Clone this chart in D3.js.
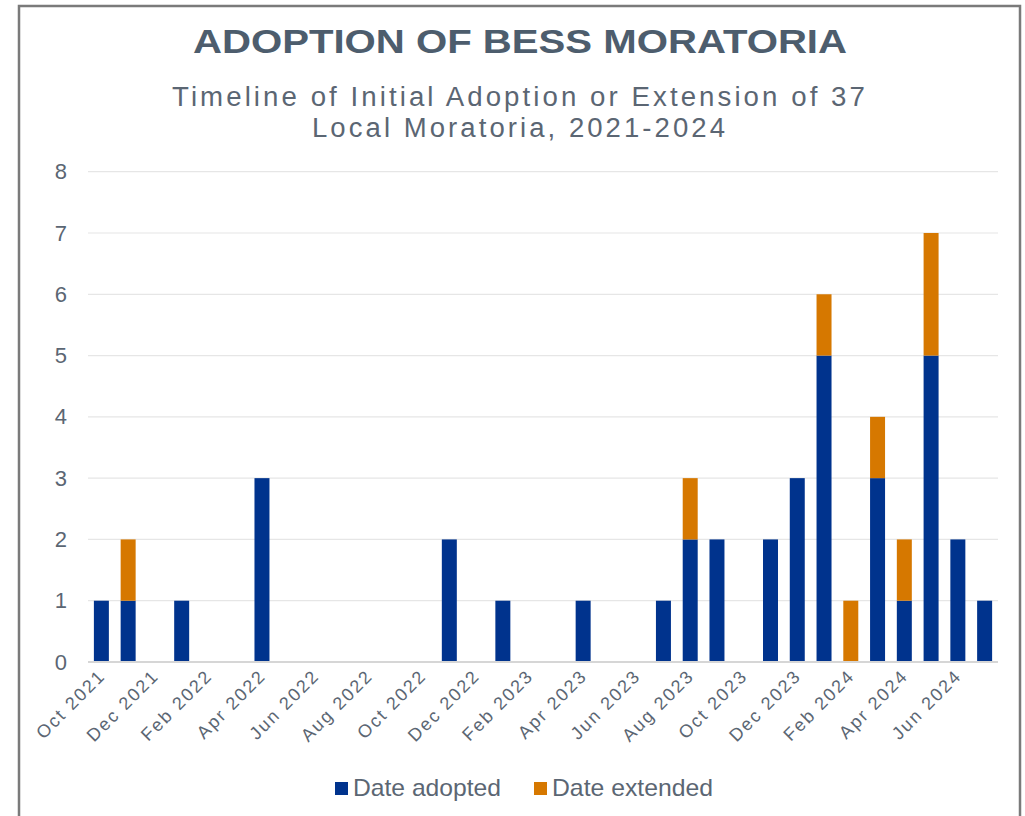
<!DOCTYPE html>
<html>
<head>
<meta charset="utf-8">
<script src="https://cdn.jsdelivr.net/npm/d3@7"></script>
<style>
  html, body { margin: 0; padding: 0; background: #ffffff; }
  svg { display: block; font-family: "Liberation Sans", Arial, sans-serif; }
</style>
</head>
<body>
<svg id="chart" width="1025" height="816"></svg>
<script>
// ---- Data ----
const months = ["Oct 2021","Nov 2021","Dec 2021","Jan 2022","Feb 2022","Mar 2022","Apr 2022","May 2022","Jun 2022","Jul 2022","Aug 2022","Sep 2022","Oct 2022","Nov 2022","Dec 2022","Jan 2023","Feb 2023","Mar 2023","Apr 2023","May 2023","Jun 2023","Jul 2023","Aug 2023","Sep 2023","Oct 2023","Nov 2023","Dec 2023","Jan 2024","Feb 2024","Mar 2024","Apr 2024","May 2024","Jun 2024","Jul 2024"];
const adopted  = [1,1,0,1,0,0,3,0,0,0,0,0,0,2,0,1,0,0,1,0,0,1,2,2,0,2,3,5,0,3,1,5,2,1];
const extended = [0,1,0,0,0,0,0,0,0,0,0,0,0,0,0,0,0,0,0,0,0,0,1,0,0,0,0,1,1,1,1,2,0,0];
const seriesNames = ["Date adopted", "Date extended"];
const seriesColors = ["#00338D", "#D67800"];
const yTicks = [0,1,2,3,4,5,6,7,8];
const xTickLabels = months.filter((m, i) => i % 2 === 0);
const titleText = "ADOPTION OF BESS MORATORIA";
const subtitleLines = ["Timeline of Initial Adoption or Extension of 37", "Local Moratoria, 2021-2024"];

// ---- Setup ----
const svg = d3.select("#chart");
const textColor = "#5b6673";

// frame
svg.append("rect")
  .attr("x", 19).attr("y", 6).attr("width", 1001).attr("height", 830)
  .attr("fill", "#ffffff").attr("stroke", "#7a7a7a").attr("stroke-width", 2.5);

const x = d3.scaleBand().domain(months).range([88, 998]).paddingInner(0.44).paddingOuter(0.22);
const y = d3.scaleLinear().domain([0, 8]).range([662, 171.7]);

// title
svg.append("text")
  .attr("x", 520).attr("y", 53)
  .attr("text-anchor", "middle")
  .attr("font-size", 34).attr("font-weight", "bold")
  .attr("fill", "#4d5d6d")
  .attr("textLength", 654).attr("lengthAdjust", "spacingAndGlyphs")
  .text(titleText);

// subtitle
const subW = [696, 416];
svg.selectAll("text.sub").data(subtitleLines).join("text")
  .attr("class", "sub")
  .attr("x", 520).attr("y", (d, i) => 106 + i * 31)
  .attr("text-anchor", "middle")
  .attr("font-size", 27)
  .attr("letter-spacing", 3)
  .attr("fill", textColor)
  .attr("textLength", (d, i) => subW[i]).attr("lengthAdjust", "spacingAndGlyphs")
  .text(d => d);

// gridlines
svg.append("g").selectAll("line").data(yTicks.filter(t => t > 0)).join("line")
  .attr("x1", 88).attr("x2", 998)
  .attr("y1", d => y(d)).attr("y2", d => y(d))
  .attr("stroke", "#e6e6e6").attr("stroke-width", 1.2);

// y axis labels via d3 axis
const yAxis = d3.axisLeft(y).tickValues(yTicks).tickSize(0).tickPadding(0).tickFormat(d3.format("d"));
const yg = svg.append("g").attr("transform", "translate(67,0)").call(yAxis);
yg.select(".domain").remove();
yg.selectAll("text").attr("font-size", 22).attr("fill", textColor)
  .attr("font-family", "Liberation Sans, Arial, sans-serif")
  .attr("x", 0);

// stacked bars
const table = months.map((m, i) => ({ month: m, a: adopted[i], e: extended[i] }));
const stack = d3.stack().keys(["a", "e"])(table);
svg.append("g").selectAll("g").data(stack).join("g")
  .attr("fill", (d, i) => seriesColors[i])
  .selectAll("rect").data(d => d.filter(s => s[1] - s[0] > 0)).join("rect")
  .attr("x", d => x(d.data.month))
  .attr("width", x.bandwidth())
  .attr("y", d => y(d[1]))
  .attr("height", d => y(d[0]) - y(d[1]));

// baseline
svg.append("line")
  .attr("x1", 88).attr("x2", 998).attr("y1", y(0)).attr("y2", y(0))
  .attr("stroke", "#d6d6d6").attr("stroke-width", 2);

// x axis labels
const xAxis = d3.axisBottom(x).tickValues(xTickLabels).tickSize(0).tickPadding(0);
const xg = svg.append("g").attr("transform", `translate(0,${y(0)})`).call(xAxis);
xg.select(".domain").remove();
xg.selectAll("text")
  .attr("font-size", 18).attr("fill", textColor)
  .attr("font-family", "Liberation Sans, Arial, sans-serif")
  .attr("text-anchor", "end")
  .attr("letter-spacing", 2)
  .attr("dy", null).attr("y", 0)
  .attr("transform", "translate(5,15) rotate(-45)");

// legend
const legendX = [335, 534];
const legendW = [148, 161];
const lg = svg.append("g");
seriesNames.forEach((name, i) => {
  lg.append("rect").attr("x", legendX[i]).attr("y", 782).attr("width", 13).attr("height", 13)
    .attr("fill", seriesColors[i]);
  lg.append("text").attr("x", legendX[i] + 18).attr("y", 796)
    .attr("font-size", 24).attr("fill", textColor)
    .attr("textLength", legendW[i]).attr("lengthAdjust", "spacingAndGlyphs")
    .text(name);
});
</script>
</body>
</html>
